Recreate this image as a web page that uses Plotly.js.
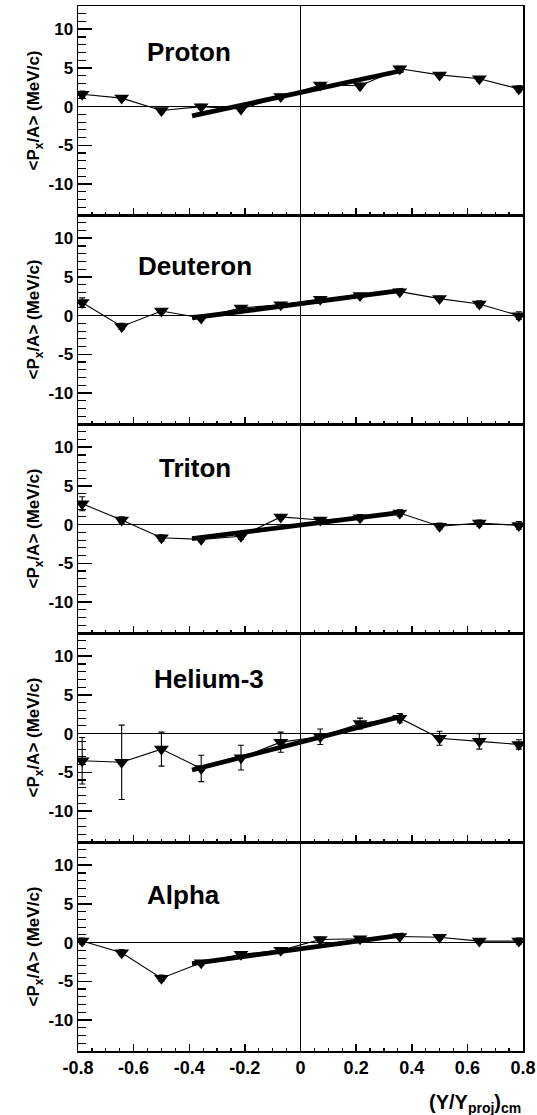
<!DOCTYPE html>
<html>
<head>
<meta charset="utf-8">
<script src="https://cdn.plot.ly/plotly-3.0.1.min.js"></script>
<style>html,body{margin:0;padding:0;background:#fff;}#chart{width:537px;height:1115px;}</style>
</head>
<body>
<div id="chart"></div>
<script>
// ---- data ----
const rapidity = [-0.785, -0.643, -0.5, -0.357, -0.214, -0.071, 0.071, 0.214, 0.357, 0.5, 0.643, 0.785];

const particleNames = ['Proton', 'Deuteron', 'Triton', 'Helium-3', 'Alpha'];

const protonPx   = [1.6, 1.1, -0.5, 0.0, -0.3, 1.3, 2.8, 2.7, 4.9, 4.1, 3.6, 2.3];
const protonErr  = [0.4, 0.3, 0.3, 0.3, 0.3, 0.3, 0.3, 0.3, 0.3, 0.3, 0.3, 0.4];
const deuteronPx  = [1.7, -1.4, 0.6, -0.3, 1.0, 1.4, 2.1, 2.6, 3.1, 2.2, 1.5, 0.0];
const deuteronErr = [0.6, 0.4, 0.3, 0.3, 0.3, 0.3, 0.3, 0.3, 0.3, 0.3, 0.4, 0.5];
const tritonPx   = [2.7, 0.6, -1.7, -1.9, -1.5, 1.0, 0.6, 0.9, 1.5, -0.2, 0.2, -0.1];
const tritonErr  = [0.9, 0.4, 0.4, 0.3, 0.4, 0.3, 0.3, 0.4, 0.4, 0.4, 0.4, 0.5];
const helium3Px  = [-3.5, -3.7, -2.0, -4.5, -3.1, -1.1, -0.4, 1.3, 2.0, -0.6, -1.0, -1.4];
const helium3Err = [3.0, 4.8, 2.2, 1.7, 1.6, 1.3, 1.0, 0.7, 0.6, 0.9, 1.0, 0.6];
const alphaPx    = [0.2, -1.3, -4.6, -2.6, -1.5, -1.0, 0.4, 0.5, 0.8, 0.7, 0.2, 0.2];
const alphaErr   = [0.4, 0.4, 0.4, 0.3, 0.3, 0.3, 0.3, 0.3, 0.3, 0.3, 0.3, 0.4];

// linear fits in the mid-rapidity region
const fitX = [-0.39, 0.37];
const protonFit   = [-1.2, 4.7];
const deuteronFit = [-0.3, 3.3];
const tritonFit   = [-1.8, 1.6];
const helium3Fit  = [-4.7, 2.3];
const alphaFit    = [-2.7, 1.0];

// label positions (data coords) for particle names
const labelX = [-0.40, -0.38, -0.38, -0.33, -0.42];
const labelY = [7.0, 6.4, 7.3, 7.1, 6.2];

const xTickVals = [-0.8, -0.6, -0.4, -0.2, 0, 0.2, 0.4, 0.6, 0.8];
const xTickText = ['-0.8', '-0.6', '-0.4', '-0.2', '0', '0.2', '0.4', '0.6', '0.8'];
const yTickVals = [-10, -5, 0, 5, 10];
const yTickText = ['-10', '-5', '0', '5', '10'];

const seriesY = [protonPx, deuteronPx, tritonPx, helium3Px, alphaPx];
const seriesErr = [protonErr, deuteronErr, tritonErr, helium3Err, alphaErr];
const seriesFit = [protonFit, deuteronFit, tritonFit, helium3Fit, alphaFit];

// ---- build ----
const FONT = 'Liberation Sans, Arial, Helvetica, sans-serif';
const traces = [];
const layout = {
  width: 537, height: 1115,
  margin: {l: 78, r: 14, t: 6, b: 64},
  paper_bgcolor: '#ffffff', plot_bgcolor: '#ffffff',
  showlegend: false,
  font: {family: FONT, color: '#000'},
  annotations: []
};

const n = particleNames.length;
for (let i = 0; i < n; i++) {
  const k = i === 0 ? '' : String(i + 1);
  const xa = 'x' + k, ya = 'y' + k;
  const top = 1 - i / n, bot = 1 - (i + 1) / n;

  traces.push({
    x: rapidity, y: seriesY[i], xaxis: xa, yaxis: ya,
    type: 'scatter', mode: 'lines+markers',
    line: {color: '#000', width: 1.1},
    marker: {symbol: 'triangle-down', size: 13, color: '#000'},
    error_y: {type: 'data', array: seriesErr[i], visible: true, color: '#000', thickness: 1.1, width: 3},
    hoverinfo: 'skip'
  });
  traces.push({
    x: fitX, y: seriesFit[i], xaxis: xa, yaxis: ya,
    type: 'scatter', mode: 'lines',
    line: {color: '#000', width: 4.8},
    hoverinfo: 'skip'
  });

  const isBottom = i === n - 1;
  layout['xaxis' + k] = {
    domain: [0, 1], anchor: ya,
    range: [-0.8, 0.8],
    matches: i === 0 ? undefined : 'x',
    showline: true, mirror: true, linecolor: '#000', linewidth: 1.5,
    showgrid: false,
    zeroline: true, zerolinecolor: '#000', zerolinewidth: 1.5,
    tickmode: 'array', tickvals: xTickVals, ticktext: xTickText,
    ticks: 'inside', ticklen: 7, tickwidth: 1.5, tickcolor: '#000',
    minor: {ticks: 'inside', dtick: 0.05, tick0: 0, ticklen: 3, tickwidth: 1.2, tickcolor: '#000', showgrid: false},
    showticklabels: isBottom,
    tickfont: {family: FONT, size: 18, weight: 'bold', color: '#000'},
    fixedrange: true
  };
  layout['yaxis' + k] = {
    domain: [bot, top], anchor: xa,
    range: [-14, 13],
    showline: true, mirror: true, linecolor: '#000', linewidth: 1.5,
    showgrid: false,
    zeroline: true, zerolinecolor: '#000', zerolinewidth: 1.5,
    tickmode: 'array', tickvals: yTickVals, ticktext: yTickText,
    ticks: 'inside', ticklen: 14, tickwidth: 1.5, tickcolor: '#000',
    minor: {ticks: 'inside', dtick: 1, tick0: 0, ticklen: 8, tickwidth: 1.2, tickcolor: '#000', showgrid: false},
    tickfont: {family: FONT, size: 17, weight: 'bold', color: '#000'},
    title: {text: '&lt;P<sub>x</sub>/A&gt; (MeV/c)', font: {family: FONT, size: 17, weight: 'bold', color: '#000'}, standoff: 4},
    fixedrange: true
  };
  layout.annotations.push({
    text: particleNames[i], xref: xa, yref: ya, x: labelX[i], y: labelY[i],
    showarrow: false, xanchor: 'center', yanchor: 'middle',
    font: {family: FONT, size: 26, weight: 'bold', color: '#000'}
  });
}

layout.annotations.push({
  text: '(Y/Y<sub>proj</sub>)<sub>cm</sub>', xref: 'paper', yref: 'paper',
  x: 1.0, y: -0.05, xanchor: 'right', yanchor: 'middle', showarrow: false,
  font: {family: FONT, size: 20, weight: 'bold', color: '#000'}
});

Plotly.newPlot('chart', traces, layout, {staticPlot: true, displayModeBar: false});
</script>
</body>
</html>
